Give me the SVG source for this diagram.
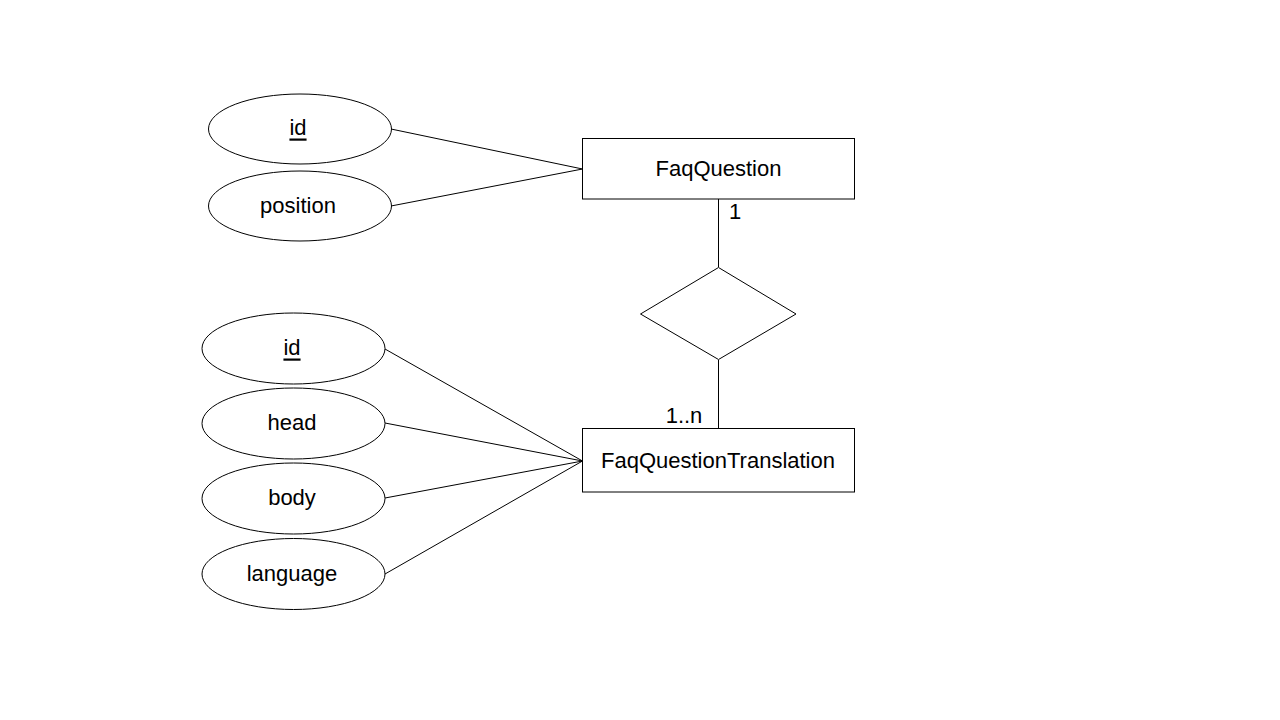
<svg xmlns="http://www.w3.org/2000/svg" width="1280" height="720" viewBox="0 0 1280 720">
<style>
.shape{fill:#fff;stroke:#000;stroke-width:1}
.conn line{stroke:#000;stroke-width:1}
text{font-family:"Liberation Sans",Arial,sans-serif;font-size:22px;fill:#000;text-anchor:middle;dominant-baseline:central}
.u{text-decoration:underline}
</style>
<rect width="1280" height="720" fill="#fff"/>
<g id="connectors" class="conn">
<line x1="391" y1="129" x2="582.5" y2="169"/>
<line x1="391" y1="206" x2="582.5" y2="169"/>
<line x1="385" y1="349" x2="582.5" y2="461"/>
<line x1="385" y1="423" x2="582.5" y2="461"/>
<line x1="385" y1="498" x2="582.5" y2="461"/>
<line x1="385" y1="574" x2="582.5" y2="461"/>
<line x1="718.5" y1="199" x2="718.5" y2="267"/>
<line x1="718.5" y1="360" x2="718.5" y2="428"/>
</g>
<g id="FaqQuestion">
<rect class="shape" x="582.5" y="138.5" width="272" height="60.5"/>
<text x="718.5" y="168">FaqQuestion</text>
</g>
<g id="FaqQuestionTranslation">
<rect class="shape" x="582.5" y="428.5" width="272" height="63.5"/>
<text x="718" y="460">FaqQuestionTranslation</text>
</g>
<g id="relationship">
<polygon class="shape" points="718.5,267.5 796,314 718.5,359.5 640.5,314"/>
</g>
<g id="card1"><text x="735" y="211">1</text></g>
<g id="cardN"><text x="684" y="415">1..n</text></g>
<g id="fq-id">
<ellipse class="shape" cx="300" cy="129" rx="91.5" ry="35"/>
<text class="u" x="298" y="127">id</text>
</g>
<g id="fq-position">
<ellipse class="shape" cx="300" cy="206" rx="91.5" ry="35"/>
<text x="298" y="205">position</text>
</g>
<g id="fqt-id">
<ellipse class="shape" cx="293.5" cy="348.5" rx="91.5" ry="35.5"/>
<text class="u" x="292" y="347">id</text>
</g>
<g id="fqt-head">
<ellipse class="shape" cx="293.5" cy="423.5" rx="91.5" ry="35.5"/>
<text x="292" y="422">head</text>
</g>
<g id="fqt-body">
<ellipse class="shape" cx="293.5" cy="498.5" rx="91.5" ry="35.5"/>
<text x="292" y="497">body</text>
</g>
<g id="fqt-language">
<ellipse class="shape" cx="293.5" cy="574" rx="91.5" ry="35.5"/>
<text x="292" y="573">language</text>
</g>
</svg>
